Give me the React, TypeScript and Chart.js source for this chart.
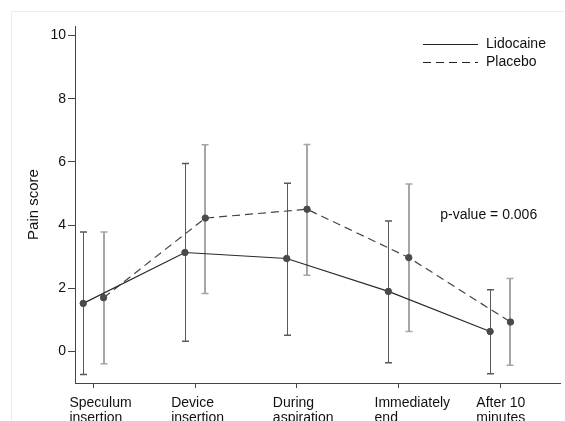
import React, { useEffect, useRef } from "react";
import { Chart, registerables } from "chart.js";

Chart.register(...registerables);

const CATEGORIES: string[][] = [
  ["Speculum", "insertion"],
  ["Device", "insertion"],
  ["During", "aspiration"],
  ["Immediately", "end"],
  ["After 10", "minutes"],
];
const SERIES_NAMES = ["Lidocaine", "Placebo"];
const LIDO_MEAN = [1.52, 3.13, 2.94, 1.9, 0.63];
const LIDO_UPPER = [3.78, 5.95, 5.32, 4.13, 1.95];
const LIDO_LOWER = [-0.73, 0.32, 0.51, -0.36, -0.71];
const PLAC_MEAN = [1.7, 4.22, 4.5, 2.97, 0.93];
const PLAC_UPPER = [3.78, 6.54, 6.55, 5.3, 2.31];
const PLAC_LOWER = [-0.39, 1.83, 2.41, 0.63, -0.44];
const Y_TICKS = [0, 2, 4, 6, 8, 10];
const Y_TITLE = "Pain score";
const P_VALUE_TEXT = "p-value = 0.006";

const FONT = "'Liberation Sans', Arial, Helvetica, sans-serif";
const GROUP_OFFSET = 0.1;

export default function App() {
  const ref = useRef<HTMLCanvasElement | null>(null);

  useEffect(() => {
    const canvas = ref.current;
    if (!canvas) return;

    const errorBars = {
      id: "errorBars",
      beforeDatasetsDraw(chart: any) {
        const { ctx, scales } = chart;
        const xs = scales.x;
        const ys = scales.y;
        chart.data.datasets.forEach((ds: any) => {
          ctx.save();
          ctx.strokeStyle = ds.errColor;
          ctx.lineWidth = ds.errWidth;
          ds.data.forEach((pt: any, i: number) => {
            const px = Math.round(xs.getPixelForValue(pt.x)) + (ds.errWidth % 2 ? 0.5 : 0);
            const top = ys.getPixelForValue(ds.errHigh[i]);
            const bot = ys.getPixelForValue(ds.errLow[i]);
            ctx.beginPath();
            ctx.moveTo(px, top);
            ctx.lineTo(px, bot);
            ctx.stroke();
            ctx.lineWidth = 1.5;
            ctx.beginPath();
            ctx.moveTo(px - 3.5, top);
            ctx.lineTo(px + 3.5, top);
            ctx.moveTo(px - 3.5, bot);
            ctx.lineTo(px + 3.5, bot);
            ctx.stroke();
            ctx.lineWidth = ds.errWidth;
          });
          ctx.restore();
        });
      },
    };

    const decorations = {
      id: "decorations",
      beforeDraw(chart: any) {
        const { ctx } = chart;
        ctx.save();
        ctx.fillStyle = "#ffffff";
        ctx.fillRect(0, 0, chart.width, chart.height);
        ctx.strokeStyle = "#ececec";
        ctx.lineWidth = 1;
        ctx.beginPath();
        ctx.moveTo(11.5, chart.height);
        ctx.lineTo(11.5, 11.5);
        ctx.lineTo(chart.width, 11.5);
        ctx.stroke();
        ctx.restore();
      },
      afterDraw(chart: any) {
        const { ctx, chartArea, scales } = chart;
        ctx.save();
        // legend
        const x0 = chartArea.right - 137;
        const x1 = chartArea.right - 82;
        const tx = chartArea.right - 74;
        const rows = [chartArea.top + 18, chartArea.top + 36];
        chart.data.datasets.forEach((ds: any, i: number) => {
          const y = rows[i] + 0.5;
          ctx.strokeStyle = "#222";
          ctx.lineWidth = 1;
          ctx.setLineDash(ds.borderDash || []);
          ctx.beginPath();
          ctx.moveTo(x0, y);
          ctx.lineTo(x1, y);
          ctx.stroke();
          ctx.setLineDash([]);
          ctx.fillStyle = "#111";
          ctx.font = `14px ${FONT}`;
          ctx.textAlign = "left";
          ctx.textBaseline = "middle";
          ctx.fillText(ds.label, tx, rows[i]);
        });
        // p-value annotation
        ctx.fillStyle = "#111";
        ctx.font = `14px ${FONT}`;
        ctx.textAlign = "left";
        ctx.textBaseline = "middle";
        ctx.fillText(P_VALUE_TEXT, scales.x.getPixelForValue(3.41), scales.y.getPixelForValue(4.3));
        ctx.restore();
      },
    };

    const makeData = (vals: number[], off: number) => vals.map((v, i) => ({ x: i + off, y: v }));

    const chart = new Chart(canvas, {
      type: "line",
      data: {
        datasets: [
          {
            label: SERIES_NAMES[0],
            data: makeData(LIDO_MEAN, -GROUP_OFFSET),
            borderColor: "#2a2a2a",
            borderWidth: 1.2,
            pointRadius: 3.2,
            pointBackgroundColor: "#4a4a4a",
            pointBorderColor: "#4a4a4a",
            pointBorderWidth: 1,
            tension: 0,
            fill: false,
            errLow: LIDO_LOWER,
            errHigh: LIDO_UPPER,
            errColor: "#5a5a5a",
            errWidth: 1,
          } as any,
          {
            label: SERIES_NAMES[1],
            data: makeData(PLAC_MEAN, GROUP_OFFSET),
            borderColor: "#444444",
            borderWidth: 1.2,
            borderDash: [8, 5],
            pointRadius: 3.2,
            pointBackgroundColor: "#4a4a4a",
            pointBorderColor: "#4a4a4a",
            pointBorderWidth: 1,
            tension: 0,
            fill: false,
            errLow: PLAC_LOWER,
            errHigh: PLAC_UPPER,
            errColor: "#a6a6a6",
            errWidth: 2,
          } as any,
        ],
      },
      options: {
        animation: false,
        responsive: false,
        devicePixelRatio: 1,
        layout: { padding: { left: 0, top: 26, right: 2, bottom: 0 } },
        plugins: {
          legend: { display: false },
          tooltip: { enabled: false },
        },
        scales: {
          x: {
            type: "linear",
            min: -0.181,
            max: 4.587,
            afterBuildTicks: (s: any) => {
              s.ticks = CATEGORIES.map((_, i) => ({ value: i }));
            },
            afterFit: (s: any) => {
              s.height = 38;
            },
            ticks: {
              callback: (v: any) => CATEGORIES[Math.round(Number(v))] ?? "",
              align: "start",
              labelOffset: -24,
              autoSkip: false,
              maxRotation: 0,
              minRotation: 0,
              padding: 7,
              color: "#111",
              font: { family: FONT, size: 14, lineHeight: 1.1 },
            },
            grid: {
              display: true,
              drawOnChartArea: false,
              drawTicks: true,
              tickLength: 5,
              color: "#444",
            },
            border: { display: true, color: "#444", width: 1 },
          },
          y: {
            type: "linear",
            min: -1,
            max: 10.3,
            afterBuildTicks: (s: any) => {
              s.ticks = Y_TICKS.map((v) => ({ value: v }));
            },
            afterFit: (s: any) => {
              s.width = 75;
            },
            ticks: {
              padding: 2,
              color: "#111",
              font: { family: FONT, size: 14 },
            },
            grid: {
              display: true,
              drawOnChartArea: false,
              drawTicks: true,
              tickLength: 7,
              color: "#444",
            },
            border: { display: true, color: "#444", width: 1 },
            title: {
              display: true,
              text: Y_TITLE,
              color: "#111",
              font: { family: FONT, size: 15 },
              padding: { top: 25, bottom: 0 },
            },
          },
        },
      },
      plugins: [errorBars, decorations],
    } as any);

    return () => chart.destroy();
  }, []);

  return (
    <div style={{ position: "absolute", left: 0, top: 0, width: 565, height: 421, overflow: "hidden" }}>
      <canvas ref={ref} width={565} height={421} style={{ display: "block" }} />
    </div>
  );
}
